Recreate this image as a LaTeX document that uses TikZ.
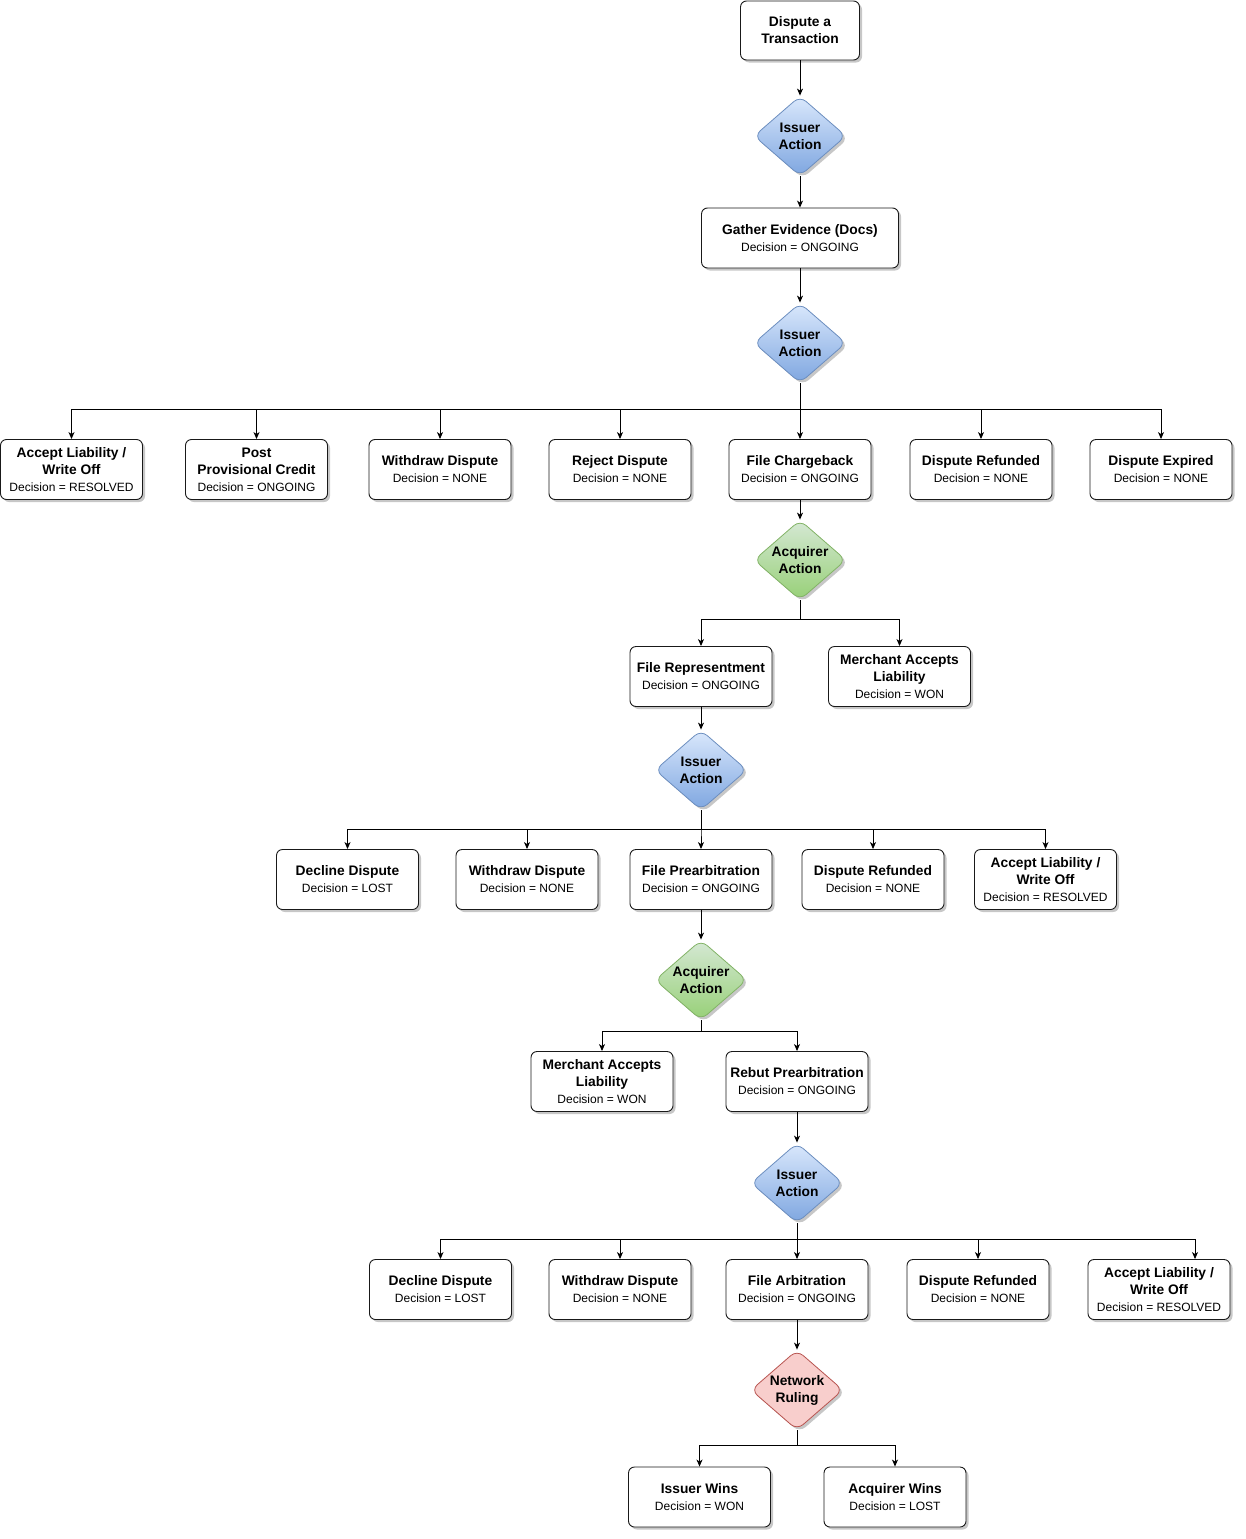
\documentclass[tikz,border=0pt]{standalone}
\usepackage{fontspec}
\setmainfont{Liberation Sans}
\usetikzlibrary{shapes.geometric,arrows.meta,shadows,calc}
\definecolor{bluetop}{HTML}{DAE8FC}
\definecolor{bluebot}{HTML}{7EA6E0}
\definecolor{blueline}{HTML}{6C8EBF}
\definecolor{greentop}{HTML}{D5E8D4}
\definecolor{greenbot}{HTML}{97D077}
\definecolor{greenline}{HTML}{82B366}
\definecolor{redfill}{HTML}{F8CECC}
\definecolor{redline}{HTML}{B85450}
\newcommand\decn[1]{{\fontsize{12}{17}\selectfont\mdseries #1}}
\tikzset{
  shad/.style={drop shadow={shadow xshift=2.5pt, shadow yshift=-2.5pt, opacity=0.22, fill=black}},
  box/.style={shad, draw=black!90, line width=0.9pt, rounded corners=6pt, fill=white,
    minimum width=142pt, minimum height=60pt, inner sep=2pt, align=center,
    font=\fontsize{13.8}{17}\selectfont\bfseries},
  dia/.style={shad, diamond, aspect=1.125, inner sep=0pt, minimum width=92pt, minimum height=80pt,
    rounded corners=8pt, align=center, line width=0.8pt,
    font=\fontsize{13.8}{17}\selectfont\bfseries},
  blued/.style={dia, draw=blueline, top color=bluetop, bottom color=bluebot},
  greend/.style={dia, draw=greenline, top color=greentop, bottom color=greenbot},
  redd/.style={dia, draw=redline, fill=redfill},
  arr/.style={-{Stealth[length=7pt,width=6pt,inset=2pt]}, line width=0.9pt},
}
\begin{document}
\begin{tikzpicture}[x=1pt,y=-1pt]
\useasboundingbox (0,0) rectangle (1245,1539);
% top
\node[box, minimum width=119pt, minimum height=59pt] (t) at (800,30.5) {Dispute a\\Transaction};
\node[blued] (i1) at (800,136) {Issuer\\Action};
\node[box, minimum width=197pt] (g) at (800,238) {Gather Evidence (Docs)\\\decn{Decision = ONGOING}};
\node[blued] (i2) at (800,343) {Issuer\\Action};
% row 1
\node[box] (r1a) at (71.5,469.5) {Accept Liability /\\Write Off\\\decn{Decision = RESOLVED}};
\node[box] (r1b) at (256.5,469.5) {Post\\Provisional Credit\\\decn{Decision = ONGOING}};
\node[box] (r1c) at (440,469.5) {Withdraw Dispute\\\decn{Decision = NONE}};
\node[box] (r1d) at (620,469.5) {Reject Dispute\\\decn{Decision = NONE}};
\node[box] (r1e) at (800,469.5) {File Chargeback\\\decn{Decision = ONGOING}};
\node[box] (r1f) at (981,469.5) {Dispute Refunded\\\decn{Decision = NONE}};
\node[box] (r1g) at (1161,469.5) {Dispute Expired\\\decn{Decision = NONE}};
\node[greend] (a1) at (800,560) {Acquirer\\Action};
% row 2
\node[box] (r2a) at (701,676.5) {File Representment\\\decn{Decision = ONGOING}};
\node[box] (r2b) at (899.5,676.5) {Merchant Accepts\\Liability\\\decn{Decision = WON}};
\node[blued] (i3) at (701,770) {Issuer\\Action};
% row 3
\node[box] (r3a) at (347.5,879.5) {Decline Dispute\\\decn{Decision = LOST}};
\node[box] (r3b) at (527,879.5) {Withdraw Dispute\\\decn{Decision = NONE}};
\node[box] (r3c) at (701,879.5) {File Prearbitration\\\decn{Decision = ONGOING}};
\node[box] (r3d) at (873,879.5) {Dispute Refunded\\\decn{Decision = NONE}};
\node[box] (r3e) at (1045.5,879.5) {Accept Liability /\\Write Off\\\decn{Decision = RESOLVED}};
\node[greend] (a2) at (701,980) {Acquirer\\Action};
% row 4
\node[box] (r4a) at (602,1081.5) {Merchant Accepts\\Liability\\\decn{Decision = WON}};
\node[box] (r4b) at (797,1081.5) {Rebut Prearbitration\\\decn{Decision = ONGOING}};
\node[blued] (i4) at (797,1183) {Issuer\\Action};
% row 5
\node[box] (r5a) at (440.5,1289.5) {Decline Dispute\\\decn{Decision = LOST}};
\node[box] (r5b) at (620,1289.5) {Withdraw Dispute\\\decn{Decision = NONE}};
\node[box] (r5c) at (797,1289.5) {File Arbitration\\\decn{Decision = ONGOING}};
\node[box] (r5d) at (978,1289.5) {Dispute Refunded\\\decn{Decision = NONE}};
\node[box] (r5e) at (1159,1289.5) {Accept Liability /\\Write Off\\\decn{Decision = RESOLVED}};
\node[redd] (n1) at (797,1390) {Network\\Ruling};
% row 6
\node[box] (r6a) at (699.5,1497) {Issuer Wins\\\decn{Decision = WON}};
\node[box] (r6b) at (895,1497) {Acquirer Wins\\\decn{Decision = LOST}};
% connectors
\draw[arr] (t) -- (i1);
\draw[arr] (i1) -- (g);
\draw[arr] (g) -- (i2);
\foreach \c in {r1a,r1b,r1c,r1d,r1e,r1f,r1g}
  \draw[arr] (i2.south) |- ([yshift=30pt]\c.north) -- (\c.north);
\draw[arr] (r1e) -- (a1);
\foreach \c in {r2a,r2b}
  \draw[arr] (a1.south) |- ([yshift=27pt]\c.north) -- (\c.north);
\draw[arr] (r2a) -- (i3);
\foreach \c in {r3a,r3b,r3c,r3d,r3e}
  \draw[arr] (i3.south) |- ([yshift=20pt]\c.north) -- (\c.north);
\draw[arr] (r3c) -- (a2);
\foreach \c in {r4a,r4b}
  \draw[arr] (a2.south) |- ([yshift=20pt]\c.north) -- (\c.north);
\draw[arr] (r4b) -- (i4);
\foreach \c in {r5a,r5b,r5c,r5d}
  \draw[arr] (i4.south) |- ([yshift=20pt]\c.north) -- (\c.north);
\draw[arr] (i4.south) |- ([xshift=36pt,yshift=20pt]r5e.north) -- ([xshift=36pt]r5e.north);
\draw[arr] (r5c) -- (n1);
\foreach \c in {r6a,r6b}
  \draw[arr] (n1.south) |- ([yshift=21pt]\c.north) -- (\c.north);
\end{tikzpicture}
\end{document}
